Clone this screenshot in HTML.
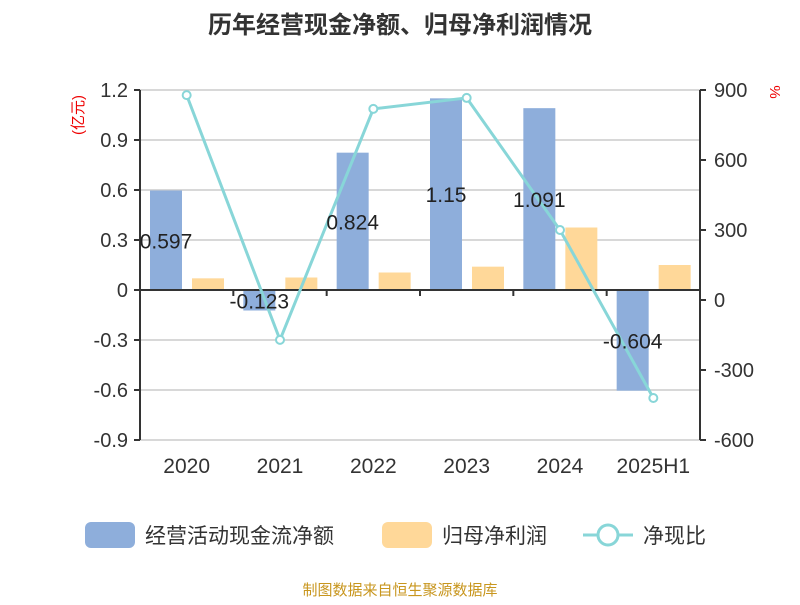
<!DOCTYPE html>
<html><head><meta charset="utf-8"><style>
body{margin:0;background:#fff;}
svg text{font-family:"Liberation Sans","Noto Sans CJK SC",sans-serif;}
</style></head><body>
<svg id="c" width="800" height="600" xmlns="http://www.w3.org/2000/svg">
<text x="400" y="33" text-anchor="middle" font-size="24" font-weight="bold" fill="#333">历年经营现金净额、归母净利润情况</text>
<text transform="translate(83,115) rotate(-90)" text-anchor="middle" font-size="15" fill="#e00">(亿元)</text>
<text transform="translate(770,92) rotate(90)" text-anchor="middle" font-size="15" fill="#e00">%</text>
<g id="grid"></g><g id="bars"></g><g id="axes"></g><g id="line"></g><g id="labels"></g>
<g>
<rect x="85" y="522" width="50" height="26" rx="6" fill="#8eaedb"/>
<text x="145" y="543" font-size="21" fill="#333">经营活动现金流净额</text>
<rect x="382" y="522" width="50" height="26" rx="6" fill="#ffd899"/>
<text x="442" y="543" font-size="21" fill="#333">归母净利润</text>
<line x1="583" y1="535" x2="633" y2="535" stroke="#88d6d8" stroke-width="3"/>
<circle cx="608" cy="535" r="10" fill="#fff" stroke="#88d6d8" stroke-width="3"/>
<text x="643" y="543" font-size="21" fill="#333">净现比</text>
</g>
<text x="400" y="595" text-anchor="middle" font-size="15" fill="#c8961e">制图数据来自恒生聚源数据库</text>
</svg>
<script>
const categories=["2020","2021","2022","2023","2024","2025H1"];
const cashFlow=[0.597,-0.123,0.824,1.15,1.091,-0.604];
const netProfit=[0.07,0.075,0.105,0.14,0.375,0.15];
const ratio=[878,-171,819,866,300,-420];
const leftTicks=[1.2,0.9,0.6,0.3,0,-0.3,-0.6,-0.9];
const rightTicks=[900,600,300,0,-300,-600];
const NS="http://www.w3.org/2000/svg";
const X0=140,X1=700,Y0=90,Y1=440;
const bw=(X1-X0)/categories.length;
const yL=v=>Y0+(1.2-v)/2.1*(Y1-Y0);
const yR=v=>Y0+(900-v)/1500*(Y1-Y0);
function mk(p,t,a){const e=document.createElementNS(NS,t);for(const k in a)e.setAttribute(k,a[k]);document.getElementById(p).appendChild(e);return e;}
leftTicks.forEach(t=>{
 const y=yL(t);
 const g=mk('grid','line',{x1:X0,x2:X1,y1:y,y2:y,stroke:'#ccc','stroke-width':1.5});
 
 
 const tk=mk('axes','line',{x1:X0-6,x2:X0,y1:y,y2:y,stroke:'#333','stroke-width':2});
 
 
 const tx=mk('axes','text',{x:X0-12,y:y+7,'text-anchor':'end','font-size':20,fill:'#333'});
 tx.textContent=String(t);
 
 
});
rightTicks.forEach(t=>{
 const y=yR(t);
 const tk=mk('axes','line',{x1:X1,x2:X1+6,y1:y,y2:y,stroke:'#333','stroke-width':2});
 
 
 const tx=mk('axes','text',{x:X1+14,y:y+7,'font-size':20,fill:'#333'});
 tx.textContent=String(t);
 
 
});
const la=mk('axes','line',{x1:X0,x2:X0,y1:Y0,y2:Y1,stroke:'#333','stroke-width':2});


const ra=mk('axes','line',{x1:X1,x2:X1,y1:Y0,y2:Y1,stroke:'#333','stroke-width':2});


const za=mk('axes','line',{x1:X0,x2:X1,y1:yL(0),y2:yL(0),stroke:'#333','stroke-width':2});


categories.forEach((c,i)=>{
 const bx=X0+i*bw;
 if(i>0){const t=mk('axes','line',{x1:bx,x2:bx,y1:yL(0),y2:yL(0)+6,stroke:'#333','stroke-width':2});
 
 }
 const v=cashFlow[i],y0=yL(0),y=yL(v);
 const b=mk('bars','rect',{x:bx+10,y:Math.min(y,y0),width:32,height:Math.abs(y-y0),fill:'#8eaedb'});
 
 
 const p=netProfit[i],yp=yL(p);
 const b2=mk('bars','rect',{x:bx+52,y:Math.min(yp,y0),width:32,height:Math.abs(yp-y0),fill:'#ffd899'});
 
 
 const lb=mk('labels','text',{x:bx+26,y:(y+y0)/2+8,'text-anchor':'middle','font-size':21,fill:'#222'});
 lb.textContent=String(v);
 
 
 const xl=mk('axes','text',{x:bx+bw/2,y:473,'text-anchor':'middle','font-size':21,fill:'#333'});
 xl.textContent=c;
 
 
});
const pts=ratio.map((v,i)=>[X0+i*bw+bw/2,yR(v)]);
const pl=mk('line','polyline',{points:pts.map(p=>p.join(',')).join(' '),fill:'none',stroke:'#88d6d8','stroke-width':3});


pts.forEach(p=>{
 const c=mk('line','circle',{cx:p[0],cy:p[1],r:4,fill:'#fff',stroke:'#88d6d8','stroke-width':2});
 
 
});
</script>
</body></html>
